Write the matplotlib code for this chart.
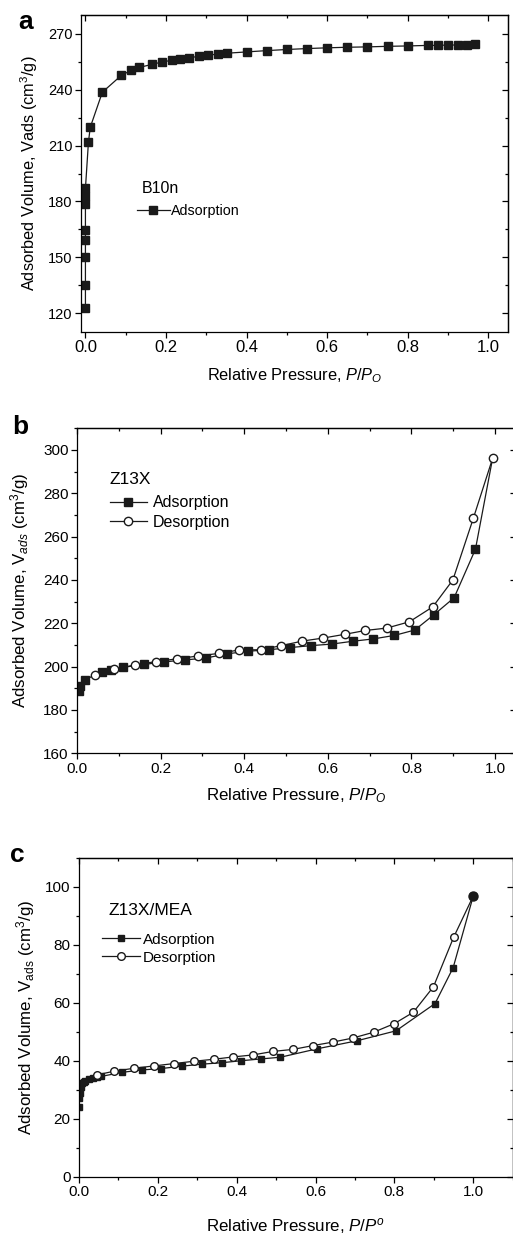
import numpy as np
import matplotlib
matplotlib.use('Agg')
import matplotlib.pyplot as plt
from matplotlib.ticker import MultipleLocator

plt.rcParams['font.family'] = ['Liberation Sans', 'DejaVu Sans']
plt.rcParams['mathtext.fontset'] = 'custom'
plt.rcParams['mathtext.rm'] = 'Liberation Sans'
plt.rcParams['mathtext.it'] = 'Liberation Sans:italic'
plt.rcParams['axes.linewidth'] = 0.9

# panel a: B10n adsorption
a_x = [0.0, 0.0, 0.0, 0.0, 0.0, 0.0, 0.0, 0.0, 0.0075, 0.012, 0.042, 0.089,
       0.113, 0.134, 0.165, 0.19, 0.214, 0.236, 0.258, 0.281, 0.304, 0.33,
       0.351, 0.40, 0.45, 0.50, 0.55, 0.60, 0.65, 0.70, 0.75, 0.80, 0.85,
       0.875, 0.90, 0.925, 0.948, 0.967]
a_y = [123, 135.4, 150.3, 159.6, 164.6, 178.6, 182.9, 187, 211.9, 219.8,
       238.6, 247.6, 250.3, 251.9, 253.5, 254.8, 255.7, 256.6, 257.1, 257.8,
       258.4, 259.1, 259.5, 260.2, 260.9, 261.5, 262.0, 262.4, 262.7, 262.9,
       263.2, 263.4, 263.7, 263.7, 263.9, 263.9, 264.1, 264.2]

# panel b: Z13X
b_ads_x = [0.004, 0.008, 0.018, 0.06, 0.082, 0.111, 0.16, 0.209, 0.259, 0.309,
           0.358, 0.409, 0.459, 0.51, 0.56, 0.609, 0.659, 0.709, 0.759, 0.808,
           0.854, 0.902, 0.953, 0.994]
b_ads_y = [188.7, 190.9, 194.0, 197.4, 198.5, 199.7, 201.0, 202.2, 203.1, 204.0,
           205.9, 207.1, 207.8, 208.8, 209.7, 210.4, 211.7, 212.8, 214.4, 216.9,
           224.0, 231.8, 254.2, 296.1]
b_des_x = [0.994, 0.948, 0.899, 0.851, 0.795, 0.741, 0.69, 0.64, 0.589, 0.539,
           0.489, 0.439, 0.388, 0.339, 0.289, 0.239, 0.188, 0.139, 0.089, 0.042]
b_des_y = [296.1, 268.5, 240.0, 227.6, 220.7, 217.8, 216.7, 214.9, 213.2, 211.8,
           209.7, 207.8, 207.7, 206.1, 204.9, 203.6, 202.3, 200.8, 198.8, 196.2]

# panel c: Z13X/MEA
c_ads_x = [0.0005, 0.001, 0.002, 0.004, 0.007, 0.012, 0.015, 0.026, 0.036,
           0.046, 0.057, 0.11, 0.159, 0.209, 0.26, 0.311, 0.362, 0.412, 0.461,
           0.511, 0.604, 0.706, 0.804, 0.903, 0.949, 1.0]
c_ads_y = [24.0, 27.0, 29.0, 31.0, 32.3, 32.8, 33.1, 33.6, 33.9, 34.3, 34.6,
           36.0, 36.8, 37.3, 38.1, 38.8, 39.3, 40.0, 40.6, 41.2, 44.1, 46.9,
           50.3, 59.7, 72.1, 96.8]
c_des_x = [1.0, 0.95, 0.899, 0.848, 0.80, 0.747, 0.694, 0.643, 0.593, 0.543,
           0.492, 0.442, 0.391, 0.342, 0.291, 0.24, 0.19, 0.14, 0.09, 0.045]
c_des_y = [96.8, 82.5, 65.5, 56.7, 52.8, 49.8, 47.8, 46.4, 45.2, 43.9, 43.2,
           42.0, 41.3, 40.5, 39.8, 39.0, 38.2, 37.4, 36.4, 35.1]

W, H = 513, 1234
fig = plt.figure(figsize=(W / 100, H / 100), dpi=100)

LC = '#1a1a1a'


def make_axes(l, r, t, b):
    return fig.add_axes([l / W, 1 - b / H, (r - l) / W, (b - t) / H])


def style(ax, xmaj, ymaj, xfs, yfs):
    ax.xaxis.set_major_locator(MultipleLocator(xmaj))
    ax.xaxis.set_minor_locator(MultipleLocator(xmaj / 2))
    ax.yaxis.set_major_locator(MultipleLocator(ymaj))
    ax.yaxis.set_minor_locator(MultipleLocator(ymaj / 2))
    ax.tick_params(which='major', direction='out', length=4, width=0.9, pad=2)
    ax.tick_params(which='minor', direction='out', length=2.5, width=0.9)
    ax.tick_params(axis='x', labelsize=xfs)
    ax.tick_params(axis='y', labelsize=yfs)
    top = ax.secondary_xaxis('top')
    top.xaxis.set_major_locator(MultipleLocator(xmaj))
    top.xaxis.set_minor_locator(MultipleLocator(xmaj / 2))
    top.tick_params(which='major', direction='in', length=4, width=0.9, labeltop=False)
    top.tick_params(which='minor', direction='in', length=2.5, width=0.9)
    right = ax.secondary_yaxis('right')
    right.yaxis.set_major_locator(MultipleLocator(ymaj))
    right.yaxis.set_minor_locator(MultipleLocator(ymaj / 2))
    right.tick_params(which='major', direction='in', length=4, width=0.9, labelright=False)
    right.tick_params(which='minor', direction='in', length=2.5, width=0.9)


# ---- panel a
ax = make_axes(81, 508, 15, 332)
ax.plot(a_x, a_y, '-s', color=LC, lw=0.9, ms=5.2, mfc=LC, mec=LC, label='Adsorption')
ax.set_xlim(-0.011, 1.049)
ax.set_ylim(110, 280)
style(ax, 0.2, 30, 12, 10.5)
ax.set_xlabel(r'Relative Pressure, $P/P_O$', fontsize=11.8, labelpad=8)
ax.set_ylabel(r'Adsorbed Volume, Vads (cm$^3$/g)', fontsize=11.8, labelpad=6)
ax.text(0.143, 0.454, 'B10n', transform=ax.transAxes, fontsize=11.5, va='center', ha='left')
ax.legend(loc='center left', bbox_to_anchor=(0.131, 0.382), frameon=False,
          fontsize=10.3, handlelength=2.3, handletextpad=0.05, borderpad=0,
          borderaxespad=0)
fig.text(18 / W, 1 - 22 / H, 'a', fontsize=19, fontweight='bold', va='center', ha='left')

# ---- panel b
ax = make_axes(77, 516, 428.3, 753.3)
ax.plot(b_ads_x, b_ads_y, '-s', color=LC, lw=0.9, ms=5.2, mfc=LC, mec=LC,
        markevery=slice(0, len(b_ads_x) - 1), label='Adsorption')
ax.plot(b_des_x, b_des_y, '-o', color=LC, lw=0.9, ms=6, mfc='white', mec=LC, label='Desorption')
ax.set_xlim(0, 1.05)
ax.set_ylim(160, 310)
style(ax, 0.2, 20, 11, 11)
ax.set_xlabel(r'Relative Pressure, $P/P_O$', fontsize=12.2, labelpad=8)
ax.set_ylabel(r'Adsorbed Volume, V$_{ads}$ (cm$^3$/g)', fontsize=12.2, labelpad=9)
ax.text(0.075, 0.844, 'Z13X', transform=ax.transAxes, fontsize=12.5, va='center', ha='left')
ax.legend(loc='center left', bbox_to_anchor=(0.075, 0.7405), frameon=False,
          fontsize=11.5, handlelength=2.3, handletextpad=0.4, borderpad=0,
          borderaxespad=0, labelspacing=0.3)
fig.text(12 / W, 1 - 427 / H, 'b', fontsize=19, fontweight='bold', va='center', ha='left')

# ---- panel c
ax = make_axes(79, 512.7, 857.7, 1176.7)
ax.plot(c_ads_x, c_ads_y, '-s', color=LC, lw=0.9, ms=4.7, mfc=LC, mec=LC, label='Adsorption')
ax.plot(c_des_x, c_des_y, '-o', color=LC, lw=0.9, ms=5.5, mfc='white', mec=LC, label='Desorption')
ax.plot(c_des_x[:1], c_des_y[:1], 'o', color=LC, ms=6.5)
ax.set_xlim(0, 1.1)
ax.set_ylim(0, 110)
style(ax, 0.2, 20, 11, 11)
ax.set_xlabel(r'Relative Pressure, $P/P^o$', fontsize=12.2, labelpad=12)
ax.set_ylabel(r'Adsorbed Volume, V$_{\rm ads}$ (cm$^3$/g)', fontsize=12.2, labelpad=6)
ax.text(0.069, 0.836, 'Z13X/MEA', transform=ax.transAxes, fontsize=12.5, va='center', ha='left')
ax.legend(loc='center left', bbox_to_anchor=(0.053, 0.715), frameon=False,
          fontsize=11, handlelength=2.5, handletextpad=0.2, borderpad=0,
          borderaxespad=0, labelspacing=0.25)
fig.text(10 / W, 1 - 855 / H, 'c', fontsize=19, fontweight='bold', va='center', ha='left')

fig.savefig('out.png', dpi=100)
